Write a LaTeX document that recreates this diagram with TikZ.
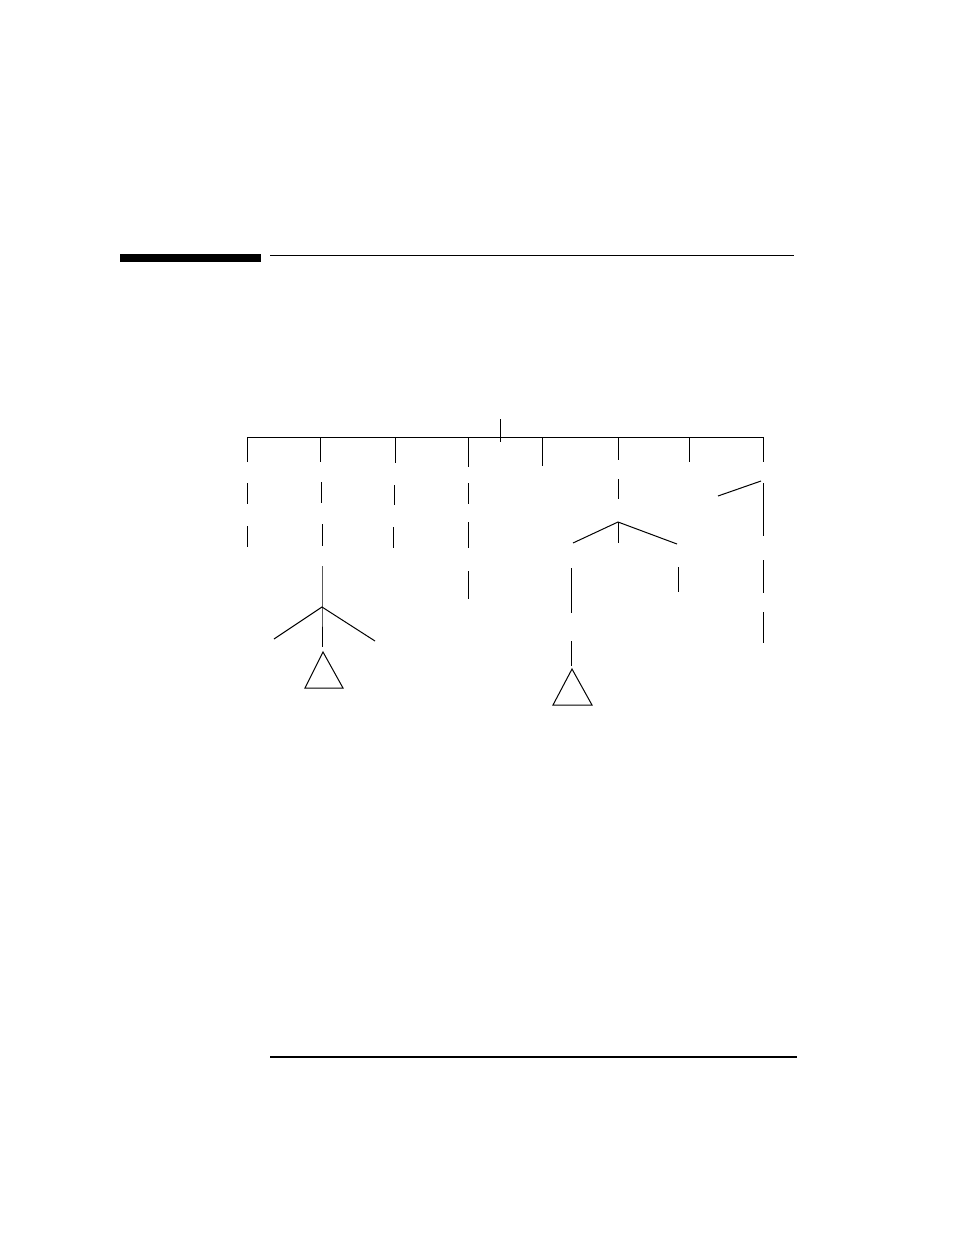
\documentclass[tikz,border=0pt]{standalone}
\usetikzlibrary{positioning}
\begin{document}
\begin{tikzpicture}[x=1pt, y=-1pt, line width=1pt,
    branch/.style={draw, line width=1pt},
    leaf/.style={draw, line width=1pt, line join=miter}]
    \useasboundingbox (0,0) rectangle (954,1235);

    % Draw the page rules
    \fill (120,254) rectangle (261,262);
    \draw[line width=1.3pt] (270,255.5) -- (794,255.5);
    \draw[line width=2pt] (270,1057) -- (797,1057);

    % Draw the root and the top bar
    \coordinate (root) at (500,419);
    \coordinate (rootend) at (500,442);
    \draw[branch] (root) -- (rootend);
    \coordinate (barL) at (247,437);
    \coordinate (barR) at (763,437);
    \draw[branch] (247,462) -- (barL) -- (barR) -- (763,462);
    \foreach \x/\y [count=\i] in {320/462, 395/463, 468/467, 542/466, 618/460, 689/462} {
        \coordinate (top\i) at (\x,437);
        \coordinate (drop\i) at (\x,\y);
        \draw[branch] (top\i) -- (drop\i);
    }

    % First column
    \draw[branch] (247,483) -- (247,504);
    \draw[branch] (247,526) -- (247,547);

    % Second column, with its fork and triangle
    \draw[branch] (321,482) -- (321,503);
    \draw[branch] (322,524) -- (322,546);
    \coordinate (forkA) at (322,607);
    \draw[branch] (322,566) -- (forkA) -- (322,647);
    \coordinate (forkAl) at (274,639);
    \coordinate (forkAr) at (375,641);
    \draw[branch] (forkAl) -- (forkA) -- (forkAr);
    \draw[leaf] (323,652) -- (305,688) -- (343,688) -- cycle;

    % Third column
    \draw[branch] (394,485) -- (394,505);
    \draw[branch] (393.5,527) -- (393.5,548);

    % Fourth column
    \draw[branch] (468,483) -- (468,504);
    \draw[branch] (468,522) -- (468,548);
    \draw[branch] (468,571) -- (468,599);

    % Seventh column, with its fork
    \draw[branch] (618,479) -- (618,499);
    \coordinate (forkB) at (618,522);
    \coordinate (forkBl) at (573,543);
    \coordinate (forkBr) at (677,544);
    \draw[branch] (forkBl) -- (forkB) -- (forkBr);
    \draw[branch] (forkB) -- (618,543);
    \draw[branch] (571,568) -- (571,613);
    \draw[branch] (571,641) -- (571,666);
    \draw[leaf] (572,669) -- (553,705) -- (592,705) -- cycle;
    \draw[branch] (678,567) -- (678,592);

    % Last column
    \draw[branch] (718,496) -- (761,481);
    \draw[branch] (763,483) -- (763,536);
    \draw[branch] (763,560) -- (763,593);
    \draw[branch] (763,612) -- (763,643);
\end{tikzpicture}
\end{document}
